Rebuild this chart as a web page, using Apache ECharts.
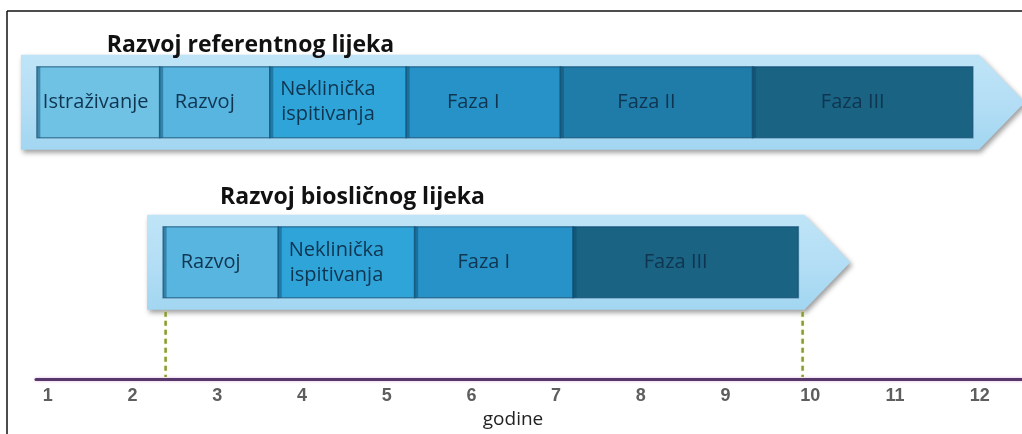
<!DOCTYPE html>
<html>
<head>
<meta charset="utf-8">
<script src="https://cdn.jsdelivr.net/npm/echarts@6/dist/echarts.min.js"></script>
<style>
html,body{margin:0;padding:0;background:#fff;}
#chart{width:1022px;height:434px;}
</style>
</head>
<body>
<div id="chart"></div>
<script>
// ---- data ----
const rows = ['Razvoj biosličnog lijeka', 'Razvoj referentnog lijeka'];
const refPhases = ['Istraživanje', 'Razvoj', 'Neklinička\nispitivanja', 'Faza I', 'Faza II', 'Faza III'];
const refBounds = [0.87, 2.32, 3.62, 5.23, 7.05, 9.32, 11.92];
const bioPhases = ['Razvoj', 'Neklinička\nispitivanja', 'Faza I', 'Faza III'];
const bioBounds = [2.36, 3.72, 5.33, 7.2, 9.86];
const markers = [2.39, 9.91];
const yearTicks = [1, 2, 3, 4, 5, 6, 7, 8, 9, 10, 11, 12];
const axisName = 'godine';
const xMin = 0.86, xMax = 12.5;

// ---- style ----
const phaseColors = {
  'Istraživanje': '#70c2e5',
  'Razvoj': '#57b5e0',
  'Neklinička\nispitivanja': '#2ea4d9',
  'Faza I': '#2792c7',
  'Faza II': '#1f7ba8',
  'Faza III': '#1a6383'
};
const INNER_H = 71, PAD_V = 12, PAD_L = 16, PAD_R = 6, TIP = 46;
const AXIS_OFFSET = 36.75;
const titleStyle = [{dx: 73, dy: -17}, {dx: 86, dy: -9}];
const LABEL_FONT = "20px 'Open Sans'";

const measureCtx = document.createElement('canvas').getContext('2d');
function textWidth(t, font) {
  measureCtx.font = font;
  return Math.max.apply(null, t.split('\n').map(l => measureCtx.measureText(l).width));
}

function rowData(phases, bounds, row) {
  return phases.map((p, i) => [bounds[i], bounds[i + 1], row, p]);
}
const segData = rowData(bioPhases, bioBounds, 0).concat(rowData(refPhases, refBounds, 1));
const bandData = [
  [bioBounds[0], bioBounds[bioBounds.length - 1], 0],
  [refBounds[0], refBounds[refBounds.length - 1], 1]
];

const chart = echarts.init(document.getElementById('chart'));

const option = {
  backgroundColor: '#ffffff',
  animation: false,
  grid: {left: 36, right: 0, top: 22.25, bottom: 90.75},
  xAxis: {
    type: 'value', min: xMin, max: xMax, offset: AXIS_OFFSET,
    name: axisName, nameLocation: 'middle', nameGap: 30,
    nameTextStyle: {fontFamily: 'Open Sans', fontSize: 19, color: '#222', padding: [0, 32, 0, 0]},
    axisLine: {show: true, onZero: false, lineStyle: {color: '#56386a', width: 3, shadowColor: 'rgba(220,160,220,0.8)', shadowBlur: 3}},
    axisTick: {show: false},
    splitLine: {show: false},
    axisLabel: {customValues: yearTicks, fontFamily: 'Liberation Sans', fontWeight: 'bold', fontSize: 18, color: '#5e5e5e', margin: 8}
  },
  yAxis: {type: 'category', data: rows, show: false},
  graphic: [
    {type: 'line', shape: {x1: 7, y1: 11, x2: 1022, y2: 11}, style: {stroke: '#111', lineWidth: 1.5}, z: 100},
    {type: 'line', shape: {x1: 7, y1: 11, x2: 7, y2: 434}, style: {stroke: '#111', lineWidth: 1.5}, z: 100}
  ],
  series: [
    {
      type: 'custom', name: 'band', clip: false, z: 1,
      data: bandData,
      encode: {x: [0, 1], y: 2},
      renderItem: function (params, api) {
        const row = api.value(2);
        const s = api.coord([api.value(0), row]);
        const e = api.coord([api.value(1), row]);
        const cy = s[1];
        const half = INNER_H / 2 + PAD_V;
        const x0 = s[0] - PAD_L, x1 = e[0] + PAD_R, tip = x1 + TIP;
        const ts = titleStyle[row];
        return {
          type: 'group',
          children: [
            {
              type: 'polygon',
              shape: {points: [[x0, cy - half], [x1, cy - half], [tip, cy], [x1, cy + half], [x0, cy + half]]},
              style: {
                fill: new echarts.graphic.LinearGradient(0, 0, 0, 1, [
                  {offset: 0, color: '#bfe4f7'},
                  {offset: 0.5, color: '#b4def5'},
                  {offset: 1, color: '#a2d6f1'}
                ]),
                shadowColor: 'rgba(40,40,40,0.45)', shadowBlur: 5, shadowOffsetX: 2, shadowOffsetY: 3
              }
            },
            {
              type: 'text',
              style: {
                text: rows[row], x: x0 + ts.dx, y: cy - half + ts.dy,
                align: 'left', verticalAlign: 'middle',
                font: "bold 23px 'Open Sans'", fill: '#111'
              }
            }
          ]
        };
      }
    },
    {
      type: 'custom', name: 'phases', clip: false, z: 2,
      data: segData,
      encode: {x: [0, 1], y: 2},
      renderItem: function (params, api) {
        const d = segData[params.dataIndex];
        const s = api.coord([d[0], d[2]]);
        const e = api.coord([d[1], d[2]]);
        const cy = s[1];
        const w = e[0] - s[0];
        const y0 = cy - INNER_H / 2;
        const name = d[3];
        const tw = textWidth(name, LABEL_FONT);
        let tx = s[0] + w / 2 - 10;
        if (tx - tw / 2 < s[0] + 6) tx = s[0] + 6 + tw / 2;
        return {
          type: 'group',
          children: [
            {type: 'rect', shape: {x: s[0], y: y0, width: w, height: INNER_H},
              style: {fill: phaseColors[name], stroke: 'rgba(12,70,105,0.55)', lineWidth: 1.5}},
            {type: 'rect', shape: {x: s[0], y: y0, width: 3.5, height: INNER_H},
              style: {fill: 'rgba(12,70,105,0.45)'}},
            {type: 'text', style: {
              text: name, x: tx, y: cy, align: 'center', verticalAlign: 'middle',
              font: LABEL_FONT, lineHeight: 25, fill: '#0f3550'
            }}
          ]
        };
      }
    },
    {
      type: 'custom', name: 'markers', clip: false, z: 3,
      data: markers.map(v => [v, 0]),
      encode: {x: 0, y: 1},
      renderItem: function (params, api) {
        const p = api.coord([api.value(0), api.value(1)]);
        const yTop = p[1] + INNER_H / 2 + PAD_V + 2;
        const yBot = params.coordSys.y + params.coordSys.height + AXIS_OFFSET - 2;
        return {
          type: 'line',
          shape: {x1: p[0], y1: yTop, x2: p[0], y2: yBot},
          style: {stroke: '#8a993c', lineWidth: 2.5, lineDash: [5, 4], shadowColor: 'rgba(230,240,120,0.8)', shadowBlur: 2}
        };
      }
    }
  ]
};
chart.setOption(option);
</script>
</body>
</html>
